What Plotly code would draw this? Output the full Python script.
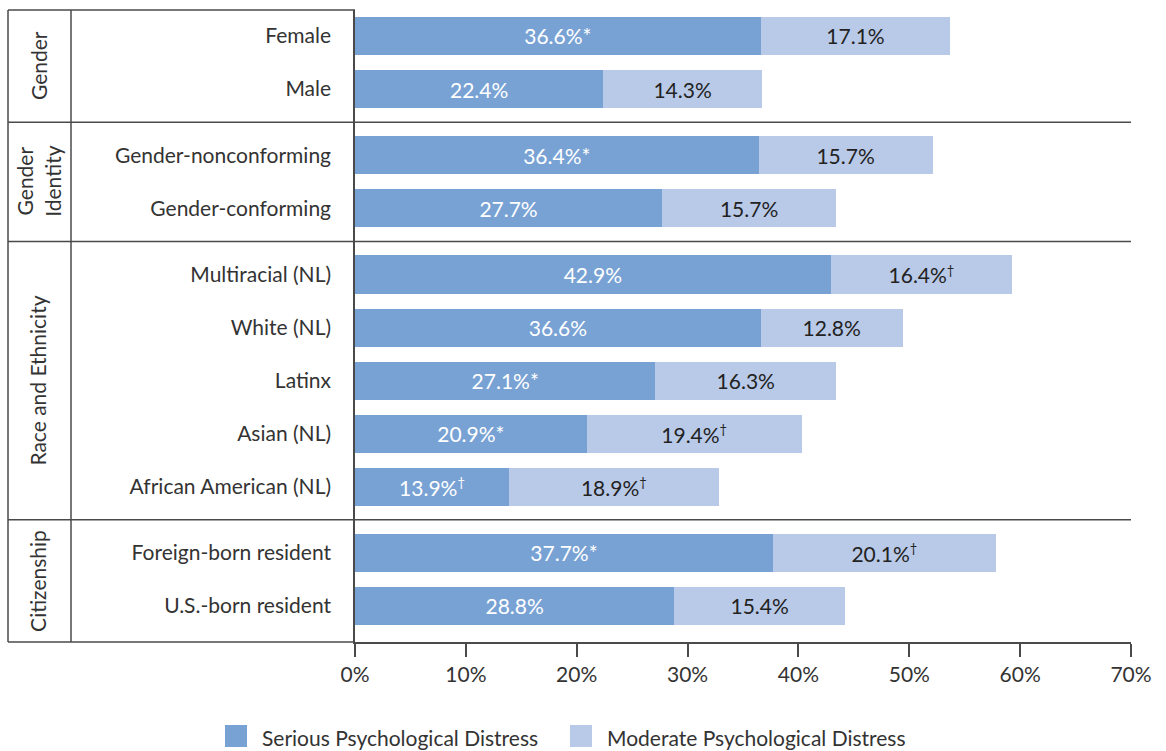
import plotly.graph_objects as go

groups = ["Gender", "Gender<br>Identity", "Race and Ethnicity", "Citizenship"]
group_members = [
    ["Female", "Male"],
    ["Gender-nonconforming", "Gender-conforming"],
    ["Multiracial (NL)", "White (NL)", "Latinx", "Asian (NL)", "African American (NL)"],
    ["Foreign-born resident", "U.S.-born resident"],
]
serious = [36.6, 22.4, 36.4, 27.7, 42.9, 36.6, 27.1, 20.9, 13.9, 37.7, 28.8]
moderate = [17.1, 14.3, 15.7, 15.7, 16.4, 12.8, 16.3, 19.4, 18.9, 20.1, 15.4]
serious_mark = ["*", "", "*", "", "", "", "*", "*", "†", "*", ""]
moderate_mark = ["", "", "", "", "†", "", "", "†", "†", "†", ""]
x_ticks = [0, 10, 20, 30, 40, 50, 60, 70]

FONT = "Lato"
FS = 21
DARK = "#79A2D4"
LIGHT = "#B9CAE8"
LINE = "#4a4a4a"
TXT = "#333333"

# positions: step 1 within a group, extra gap between groups
GAP = 0.25
cats, pos, seps = [], [], []
p = 0.0
for gi, mem in enumerate(group_members):
    if gi > 0:
        p += GAP
    start = p
    for m in mem:
        cats.append(m)
        pos.append(p)
        p += 1
    seps.append((start, p - 1))
y_top = -0.49
y_bot = pos[-1] + 0.68
bounds = [y_top]
for i in range(len(seps) - 1):
    bounds.append((seps[i][1] + seps[i + 1][0]) / 2)
bounds.append(y_bot)


def fmt(v, mark):
    s = f"{v:.1f}%"
    if mark == "†":
        return s + "<sup><span style='font-size:13px'>†</span></sup>"
    return s + mark


fig = go.Figure()
fig.add_trace(go.Bar(
    y=pos, x=serious, orientation="h", marker=dict(color=DARK, line=dict(width=0)),
    width=0.72, name="Serious Psychological Distress",
    text=[fmt(v, m) for v, m in zip(serious, serious_mark)],
    textposition="inside", insidetextanchor="middle", textangle=0,
    textfont=dict(family=FONT, size=FS, color="#FFFFFF"), hoverinfo="skip",
))
fig.add_trace(go.Bar(
    y=pos, x=moderate, orientation="h", marker=dict(color=LIGHT, line=dict(width=0)),
    width=0.72, name="Moderate Psychological Distress",
    text=[fmt(v, m) for v, m in zip(moderate, moderate_mark)],
    textposition="inside", insidetextanchor="middle", textangle=0,
    textfont=dict(family=FONT, size=FS, color="#222222"), hoverinfo="skip",
))

L = 355
plot_w = 776
def px2paper(px):
    return (px - L) / plot_w

x_out = px2paper(8)
x_in = px2paper(71)

shapes = []
lw = 1.5
shapes.append(dict(type="line", xref="paper", yref="paper", x0=x_out, x1=0, y0=1, y1=1,
                   line=dict(color=LINE, width=lw)))
shapes.append(dict(type="line", xref="paper", yref="paper", x0=x_out, x1=0, y0=0, y1=0,
                   line=dict(color=LINE, width=lw)))
shapes.append(dict(type="line", xref="paper", yref="paper", x0=x_out, x1=x_out, y0=0, y1=1,
                   line=dict(color=LINE, width=lw)))
shapes.append(dict(type="line", xref="paper", yref="paper", x0=x_in, x1=x_in, y0=0, y1=1,
                   line=dict(color=LINE, width=lw)))
for b in bounds[1:-1]:
    shapes.append(dict(type="line", xref="paper", yref="y", x0=x_out, x1=1, y0=b, y1=b,
                       line=dict(color=LINE, width=lw)))

annotations = []
for gi, g in enumerate(groups):
    annotations.append(dict(
        xref="paper", yref="y", x=px2paper(38), y=(bounds[gi] + bounds[gi + 1]) / 2,
        text=g, textangle=-90, showarrow=False, xanchor="center", yanchor="middle",
        font=dict(family=FONT, size=FS, color=TXT),
    ))

plot_h = 632
def py2paper(py):
    return (642 - py) / plot_h

leg_items = [("Serious Psychological Distress", DARK, 225), ("Moderate Psychological Distress", LIGHT, 570)]
for name, col, x0 in leg_items:
    shapes.append(dict(type="rect", xref="paper", yref="paper",
                       x0=px2paper(x0), x1=px2paper(x0 + 22), y0=py2paper(747), y1=py2paper(725),
                       fillcolor=col, line=dict(width=0)))
    annotations.append(dict(xref="paper", yref="paper", x=px2paper(x0 + 35), y=py2paper(737),
                            text=name, showarrow=False, xanchor="left", yanchor="middle",
                            font=dict(family=FONT, size=FS, color=TXT)))

fig.update_layout(
    barmode="stack",
    width=1166, height=751,
    margin=dict(l=355, r=35, t=10, b=109),
    paper_bgcolor="white", plot_bgcolor="white",
    showlegend=False,
    shapes=shapes, annotations=annotations,
    xaxis=dict(range=[0, 70], tickvals=x_ticks, ticktext=[f"{t}%" for t in x_ticks],
               showgrid=False, zeroline=False, showline=True, linecolor=LINE, linewidth=lw,
               ticks="outside", ticklen=13, tickcolor=LINE, tickwidth=lw,
               tickfont=dict(family=FONT, size=FS, color=TXT)),
    yaxis=dict(range=[y_bot, y_top], tickvals=pos, ticktext=cats,
               showgrid=False, zeroline=False, showline=True, linecolor=LINE, linewidth=lw,
               ticks="", ticklabelstandoff=18,
               tickfont=dict(family=FONT, size=FS, color=TXT)),
)

fig.write_html("out.html", config={"displayModeBar": False},
               post_script="document.body.style.margin='0';document.body.style.overflow='hidden';")
